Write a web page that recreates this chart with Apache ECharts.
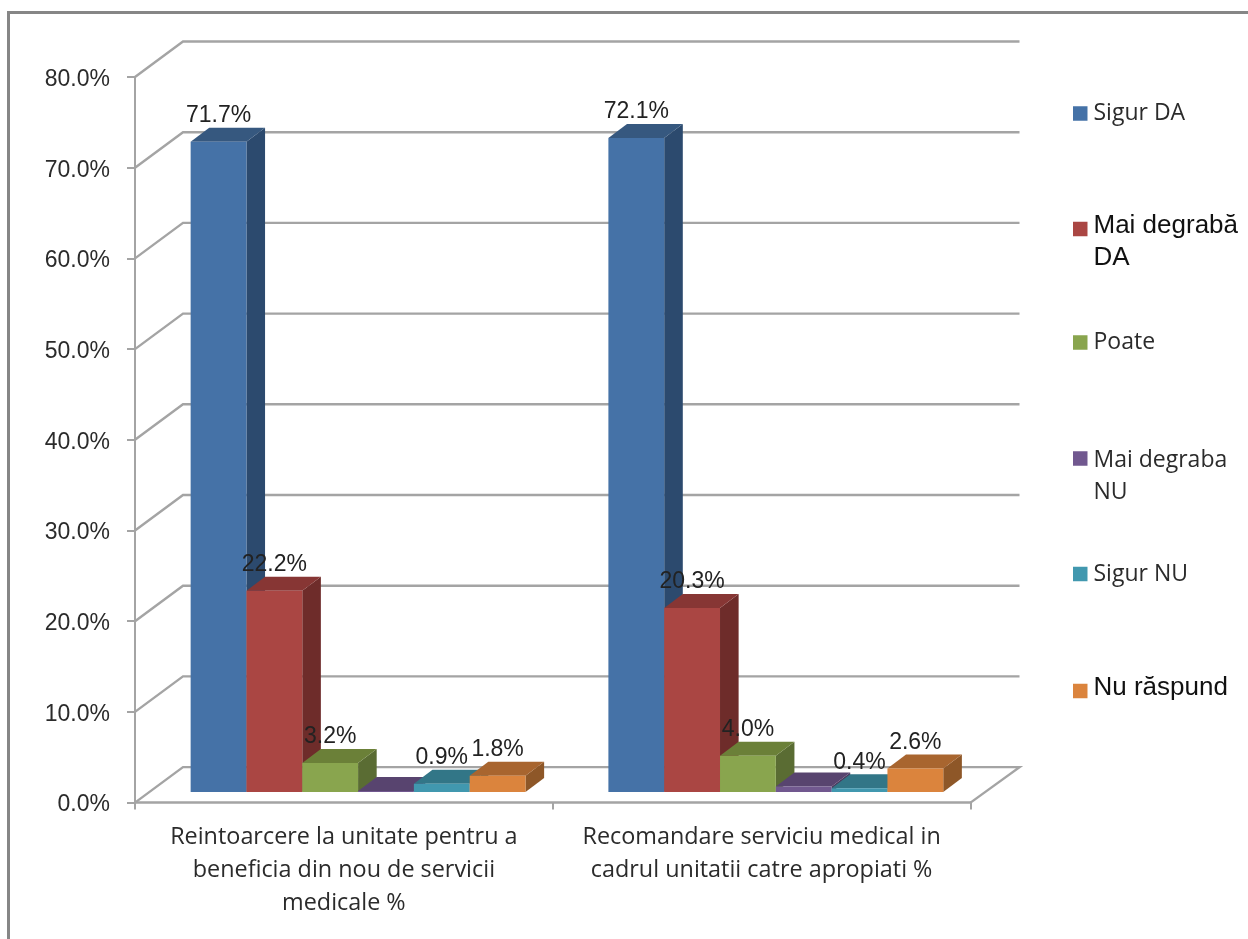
<!DOCTYPE html>
<html><head><meta charset="utf-8">
<style>html,body{margin:0;padding:0;background:#fff}#c{width:1248px;height:939px}</style>
<script src="https://cdn.jsdelivr.net/npm/echarts@6/dist/echarts.min.js"></script>
</head><body><div id="c"></div>
<script>
const categories = ['Reintoarcere la unitate pentru a\nbeneficia din nou de servicii\nmedicale %', 'Recomandare serviciu medical in\ncadrul unitatii catre apropiati %'];
const sigurDa = [71.7, 72.1];
const maiDegrabaDa = [22.2, 20.3];
const poate = [3.2, 4.0];
const maiDegrabaNu = [0.1, 0.6];
const sigurNu = [0.9, 0.4];
const nuRaspund = [1.8, 2.6];
const yTicks = [0, 10, 20, 30, 40, 50, 60, 70, 80];

const FONT = 'Open Sans';
const NUMFONT = 'Liberation Sans';
const TXT = '#2b2b2b';
const DX = 48, DY = 35.5;      // wall depth projection
const BAR_DX = 18.6, BAR_DY = 14; // bar depth projection
const SHIFT_X = 14.2, SHIFT_Y = 10.6; // bar front plane relative to axis plane
const BAR_FRAC = 0.1336;

const seriesDefs = [
  {name:'Sigur DA', values:sigurDa, front:'#4572A7', top:'#36587F', side:'#2C4A6E', label:true, legendTop:102, font:FONT, size:23, color:TXT, pad:0},
  {name:'Mai degrabă\nDA', values:maiDegrabaDa, front:'#AA4643', top:'#873634', side:'#6E2C2A', label:true, legendTop:213, font:NUMFONT, size:26, color:'#111', pad:26},
  {name:'Poate', values:poate, front:'#89A54E', top:'#6B8038', side:'#5A6C33', label:true, legendTop:331, font:FONT, size:23, color:TXT, pad:0},
  {name:'Mai degraba\nNU', values:maiDegrabaNu, front:'#71588F', top:'#58446F', side:'#4A3A5E', label:false, legendTop:449, font:FONT, size:23, color:TXT, pad:36},
  {name:'Sigur NU', values:sigurNu, front:'#4198AF', top:'#327687', side:'#2B6373', label:true, legendTop:562.5, font:FONT, size:23, color:TXT, pad:0},
  {name:'Nu răspund', values:nuRaspund, front:'#DB843D', top:'#A8652F', side:'#8E5728', label:true, legendTop:675, font:NUMFONT, size:26, color:'#111', pad:0, raise:6}
];

function wallItem(params, api) {
  const c = params.coordSys;
  const p = api.coord([0, api.value(1)]);
  const y = p[1], L = c.x, R = c.x + c.width;
  const pts = [[L, y], [L + DX, y - DY], [R + DX + 1, y - DY]];
  if (api.value(1) === 0) pts.push([R, y]);
  return {type:'polyline', shape:{points:pts}, style:{fill:null, stroke:'#a4a4a4', lineWidth:2.4}};
}

function barItem(idx, def) {
  return function (params, api) {
    const v = api.value(1);
    const cat = api.value(0);
    const band = api.size([1, 0])[0];
    const w = band * BAR_FRAC;
    const base = api.coord([cat, 0]);
    const tp = api.coord([cat, v]);
    const x = base[0] - 3 * w + idx * w + SHIFT_X;
    const y0 = base[1] - SHIFT_Y, y1 = tp[1] - SHIFT_Y;
    const children = [
      {type:'polygon', shape:{points:[[x + w, y0], [x + w + BAR_DX, y0 - BAR_DY], [x + w + BAR_DX, y1 - BAR_DY], [x + w, y1]]}, style:{fill:def.side}},
      {type:'polygon', shape:{points:[[x, y1], [x + w, y1], [x + w + BAR_DX, y1 - BAR_DY], [x + BAR_DX, y1 - BAR_DY]]}, style:{fill:def.top}},
      {type:'rect', shape:{x:x, y:y1, width:w, height:y0 - y1}, style:{fill:def.front}}
    ];
    if (def.label) {
      children.push({type:'text', z2:100, style:{text:v.toFixed(1) + '%', x:x + w / 2, y:y1 - 26, align:'center', verticalAlign:'middle', font:'23px "' + NUMFONT + '"', fill:'#222'}});
    }
    return {type:'group', children};
  };
}

const series = [{
  type:'custom', name:'wall', silent:true, coordinateSystem:'cartesian2d', z:1,
  data:yTicks.map(t => [0, t]), renderItem:wallItem, clip:false, encode:{x:0, y:1}
}];
seriesDefs.forEach((d, i) => series.push({
  type:'custom', name:d.name, coordinateSystem:'cartesian2d', z:3, clip:false, silent:true,
  itemStyle:{color:d.front}, encode:{x:0, y:1},
  data:d.values.map((v, k) => [k, v]), renderItem:barItem(i, d)
}));

const legends = seriesDefs.map(d => {
  const multi = d.name.indexOf('\n') >= 0;
  const lh = multi ? 32 : 31;
  const raise = d.raise || 0;
  return {
    data:[d.name], left:1073, top:d.legendTop, orient:'vertical', selectedMode:false,
    icon:'rect', itemWidth:14.5, itemHeight:14.5, itemGap:0, padding:0,
    formatter:n => n.split('\n').map(s => '{t|' + s + '}').join('\n'),
    textStyle:{padding:[d.pad, 0, raise, 1],
      rich:{t:{fontFamily:d.font, fontSize:d.size, color:d.color, lineHeight:lh}}}
  };
});

const chart = echarts.init(document.getElementById('c'), null, {renderer:'canvas'});
chart.setOption({
  animation:false,
  backgroundColor:'#ffffff',
  grid:{left:135, top:77, width:835.5, height:725.6, containLabel:false},
  legend:legends,
  xAxis:{type:'category', data:categories,
    axisLine:{show:true, lineStyle:{color:'#a4a4a4', width:2.5}},
    axisTick:{show:true, alignWithLabel:false, length:7, lineStyle:{color:'#a4a4a4', width:2}},
    axisLabel:{interval:0, margin:18, fontFamily:FONT, fontSize:23.4, lineHeight:33, color:TXT, align:'center'},
    splitLine:{show:false}},
  yAxis:{type:'value', min:0, max:80, interval:10,
    axisLine:{show:true, lineStyle:{color:'#a4a4a4', width:2}},
    axisTick:{show:true, inside:false, length:8, lineStyle:{color:'#a4a4a4', width:2}},
    axisLabel:{margin:25, padding:[5, 0, 0, 0], formatter:v => '{v|' + v.toFixed(1) + '%}',
      rich:{v:{fontFamily:NUMFONT, fontSize:23, color:TXT}}},
    splitLine:{show:false}},
  series,
  graphic:[{type:'polyline', silent:true, shape:{points:[[8.5, 939], [8.5, 12.5], [1248, 12.5]]}, style:{fill:null, stroke:'#868686', lineWidth:3}}]
});
</script></body></html>
